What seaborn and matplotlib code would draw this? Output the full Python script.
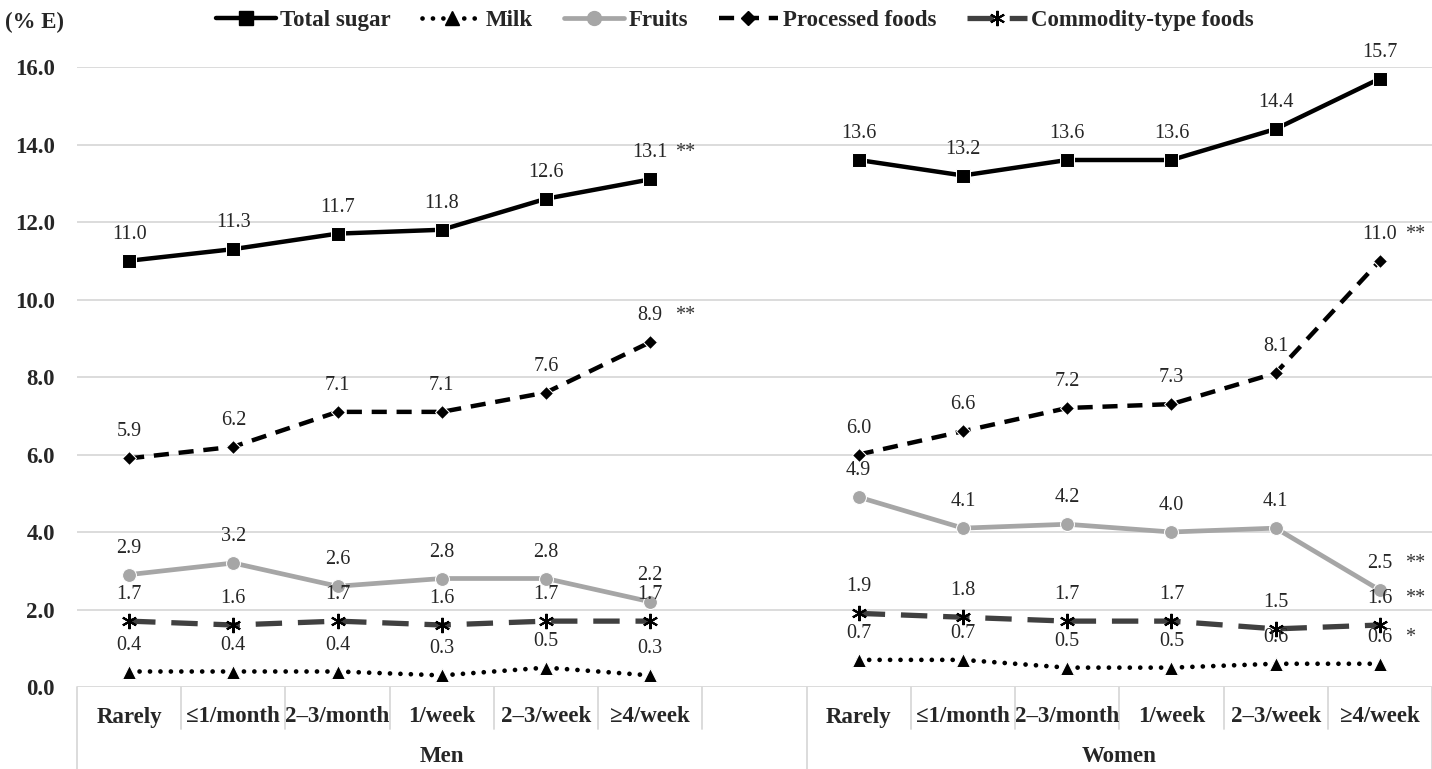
import matplotlib
matplotlib.use("Agg")
import matplotlib.pyplot as plt
from matplotlib.lines import Line2D
from matplotlib.transforms import blended_transform_factory
import numpy as np
import pandas as pd
import seaborn as sns

# Intake frequency categories
categories = ["Rarely", "\u22641/month", "2\u20133/month", "1/week", "2\u20133/week", "\u22654/week"]
groups = ["Men", "Women"]
series = ["Total sugar", "Milk", "Fruits", "Processed foods", "Commodity-type foods"]

# Energy share (% E) by series, men
men_total = [11.0, 11.3, 11.7, 11.8, 12.6, 13.1]
men_milk = [0.4, 0.4, 0.4, 0.3, 0.5, 0.3]
men_fruits = [2.9, 3.2, 2.6, 2.8, 2.8, 2.2]
men_processed = [5.9, 6.2, 7.1, 7.1, 7.6, 8.9]
men_commodity = [1.7, 1.6, 1.7, 1.6, 1.7, 1.7]

# Energy share (% E) by series, women
women_total = [13.6, 13.2, 13.6, 13.6, 14.4, 15.7]
women_milk = [0.7, 0.7, 0.5, 0.5, 0.6, 0.6]
women_fruits = [4.9, 4.1, 4.2, 4.0, 4.1, 2.5]
women_processed = [6.0, 6.6, 7.2, 7.3, 8.1, 11.0]
women_commodity = [1.9, 1.8, 1.7, 1.7, 1.5, 1.6]

# Trend significance marks shown next to the last point
men_sig = ["**", "", "", "**", ""]
women_sig = ["", "*", "**", "**", "**"]

values = {
    "Men": [men_total, men_milk, men_fruits, men_processed, men_commodity],
    "Women": [women_total, women_milk, women_fruits, women_processed, women_commodity],
}
sig = {"Men": men_sig, "Women": women_sig}
group_offset = {"Men": 0, "Women": 7}

rows = []
for g in groups:
    for s, vals in zip(series, values[g]):
        for i, (c, v) in enumerate(zip(categories, vals)):
            rows.append({"group": g, "series": s, "category": c,
                         "pos": group_offset[g] + i, "value": v})
df = pd.DataFrame(rows)

sns.set_style("white")
plt.rcParams["font.family"] = ["Liberation Serif", "DejaVu Serif"]

styles = {
    "Total sugar": dict(color="black", linewidth=3.2, linestyle="-",
                        marker="s", markersize=10),
    "Milk": dict(color="black", linewidth=3.4, linestyle=(0, (0.01, 2.2)),
                 dash_capstyle="round", marker="^", markersize=10),
    "Fruits": dict(color="#a6a6a6", linewidth=3.4, linestyle="-",
                   marker="o", markersize=10),
    "Processed foods": dict(color="black", linewidth=3.2, linestyle=(0, (3.4, 2.2)),
                            marker="D", markersize=7.5),
    "Commodity-type foods": dict(color="#404040", linewidth=3.8, linestyle=(0, (5.0, 3.0)),
                                 marker=(6, 2, 0), markersize=11,
                                 markeredgewidth=1.5, markeredgecolor="black"),
}

W, H = 1432, 769
fig = plt.figure(figsize=(W / 100, H / 100), dpi=100)
ax = fig.add_axes([77 / W, (H - 687) / H, 1355 / W, 620 / H])

NUM_FS = 14.5
BOLD_FS = 16.5

for g in groups:
    for s in series:
        sub = df[(df["group"] == g) & (df["series"] == s)]
        sns.lineplot(data=sub, x="pos", y="value", ax=ax, sort=False,
                     errorbar=None, legend=False, **styles[s])
        for _, r in sub.iterrows():
            ax.annotate(f"{r['value']:.1f}", (r["pos"], r["value"]),
                        xytext=(0, 19), textcoords="offset points",
                        ha="center", va="center", fontsize=NUM_FS)
    # significance marks after the last category
    for s, vals, mark in zip(series, values[g], sig[g]):
        if mark:
            ax.annotate(mark, (group_offset[g] + 5, vals[-1]),
                        xytext=(18, 19), textcoords="offset points",
                        ha="left", va="center", fontsize=NUM_FS, color="#333333")

ax.set_xlim(-0.5, 12.5)
ax.set_ylim(0, 16)
ax.set_yticks(np.arange(0, 16.1, 2))
ax.set_yticklabels([f"{t:.1f}" for t in np.arange(0, 16.1, 2)],
                   fontsize=16.5, fontweight="bold")
ax.tick_params(axis="y", length=0, pad=16)
ax.set_xticks([])
ax.set_xlabel("")
ax.set_ylabel("")
ax.grid(axis="y", color="#d9d9d9", linewidth=1.3)
ax.set_axisbelow(True)
for sp in ax.spines.values():
    sp.set_visible(False)

# Category table below the axis
bt = blended_transform_factory(ax.transData, fig.transFigure)
y_top = (H - 687) / H
y_mid = (H - 729) / H
grid_kw = dict(color="#d9d9d9", linewidth=1.3, clip_on=False, transform=bt)
for b in np.arange(-0.5, 13.0, 1.0):
    full = b in (-0.5, 6.5, 12.5)
    ax.plot([b, b], [y_top, 0 if full else y_mid], **grid_kw)

for g in groups:
    for i, c in enumerate(categories):
        ax.text(group_offset[g] + i, (H - 717) / H, c, transform=bt,
                ha="center", va="center", fontsize=BOLD_FS, fontweight="bold")
ax.text(3.0, (H - 756) / H, "Men", transform=bt, ha="center", va="center",
        fontsize=BOLD_FS, fontweight="bold")
ax.text(9.5, (H - 756) / H, "Women", transform=bt, ha="center", va="center",
        fontsize=BOLD_FS, fontweight="bold")

fig.text(5 / W, (H - 22) / H, "(% E)", ha="left", va="center",
         fontsize=BOLD_FS, fontweight="bold")

handles = [Line2D([], [], **styles[s]) for s in series]
fig.legend(handles, series, loc="center", bbox_to_anchor=(735 / W, (H - 20) / H),
           ncol=5, frameon=False, handlelength=2.6, handletextpad=0.2,
           columnspacing=1.35, prop={"size": BOLD_FS, "weight": "bold"})

fig.savefig("out.png", dpi=100)
